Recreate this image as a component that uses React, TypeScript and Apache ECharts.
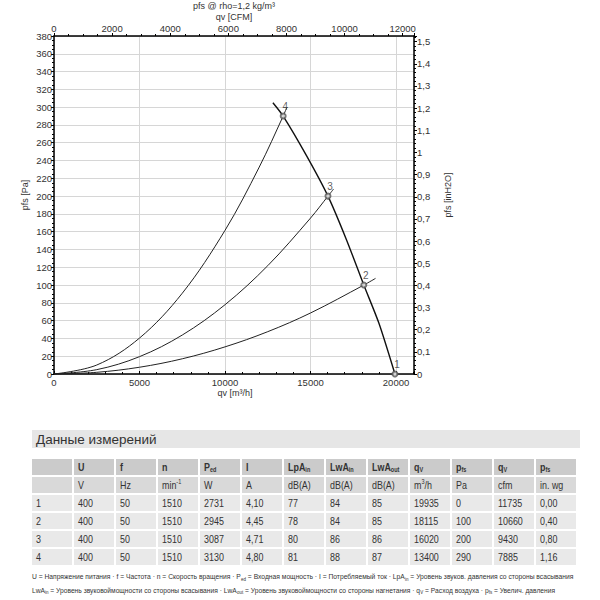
import React, { useEffect, useRef } from 'react';
import * as echarts from 'echarts';

// ---------- measured operating points (table) ----------
const pointIds = ['1', '2', '3', '4'];
const voltageV = [400, 400, 400, 400];
const freqHz = [50, 50, 50, 50];
const speedRpm = [1510, 1510, 1510, 1510];
const powerW = [2731, 2945, 3087, 3130];
const currentA = [4.1, 4.45, 4.71, 4.8];
const lpaIn = [77, 78, 80, 81];
const lwaIn = [84, 84, 86, 88];
const lwaOut = [85, 85, 86, 87];
const qvM3h = [19935, 18115, 16020, 13400];
const pfsPa = [0, 100, 200, 290];
const qvCfm = [11735, 10660, 9430, 7885];
const pfsInWg = [0.0, 0.4, 0.8, 1.16];

// ---------- table header texts ----------
const headerSymbols = ['U', 'f', 'n', 'P', 'I', 'LpA', 'LwA', 'LwA', 'q', 'p', 'q', 'p'];
const headerSubs = ['', '', '', 'ed', '', 'in', 'in', 'out', 'V', 'fs', 'V', 'fs'];
const unitBase = ['V', 'Hz', 'min', 'W', 'A', 'dB(A)', 'dB(A)', 'dB(A)', 'm', 'Pa', 'cfm', 'in. wg'];
const unitSup = ['', '', '-1', '', '', '', '', '', '3', '', '', ''];
const unitTail = ['', '', '', '', '', '', '', '', '/h', '', '', ''];

// ---------- curves ----------
const fanCurveQ = [12800, 13400, 14780, 16020, 17100, 18115, 19000, 19935];
const fanCurveP = [305, 290, 245, 200, 151, 100, 57, 0];
const sys2Q = [0, 2500, 5000, 7500, 10000, 12500, 15000, 18115, 18800];
const sys2P = [0, 1.9, 7.6, 17.1, 30.5, 47.6, 68.6, 100, 107.5];
const sys3Q = [0, 2500, 5000, 7500, 10000, 12500, 15000, 16020, 16350];
const sys3P = [0, 4.9, 19.5, 43.8, 77.9, 121.8, 175.3, 200, 208];
const sys4Q = [0, 2500, 5000, 7500, 10000, 12000, 13400, 13620];
const sys4P = [0, 10.1, 40.4, 90.8, 161.5, 232.6, 290, 300];

// ---------- axis ranges ----------
const xMaxM3h = 21050;
const M3H_PER_CFM = 1.699;
const yMaxPa = 380;
const PA_PER_INH2O = 249.09;

// ---------- footer ----------
const footerLine1 =
  'U = Напряжение питания · f = Частота · n = Скорость вращения · P{s|ed} = Входная мощность · I = Потребляемый ток · LpA{s|in} = Уровень звуков. давления со стороны всасывания';
const footerLine2 =
  'LwA{s|in} = Уровень звуковоймощности со стороны всасывания · LwA{s|out} = Уровень звуковоймощности со стороны нагнетания · q{s|V} = Расход воздуха · p{s|fs} = Увелич. давления';

const FONT = '"Liberation Sans", Arial, sans-serif';
const TXT = '#333';

function zip(a: number[], b: number[]) {
  return a.map((v, i) => [v, b[i]]);
}
function comma(v: number, d: number) {
  return v.toFixed(d).replace('.', ',');
}
function measure(text: string, font: string) {
  const c = document.createElement('canvas').getContext('2d');
  if (!c) return 1;
  c.font = font;
  return c.measureText(text).width;
}

export default function App() {
  const ref = useRef<HTMLDivElement>(null);
  useEffect(() => {
    document.body.style.margin = '0';
    const chart = echarts.init(ref.current!, null, { renderer: 'svg' });

    const graphic: any[] = [];
    const txt = (x: number, y: number, text: string, extra: any = {}, elExtra: any = {}) => {
      graphic.push({
        type: 'text',
        x,
        y,
        silent: true,
        ...elExtra,
        style: { text, fill: TXT, fontFamily: FONT, fontSize: 9.5, align: 'center', verticalAlign: 'middle', ...extra },
      });
    };

    // chart titles / axis names
    txt(234, 6, 'pfs @ rho=1,2 kg/m³', { fontSize: 9 });
    txt(234, 16.5, 'qv [CFM]', { fontSize: 9 });
    txt(235, 393, 'qv [m³/h]', { fontSize: 9 });
    txt(25, 195, 'pfs [Pa]', { fontSize: 9 }, { rotation: Math.PI / 2 });
    txt(448, 195, 'pfs [inH2O]', { fontSize: 9 }, { rotation: Math.PI / 2 });

    // ---- table ----
    graphic.push({ type: 'rect', silent: true, shape: { x: 32, y: 430, width: 548, height: 18 }, style: { fill: '#e6e6e6' } });
    txt(36, 439, 'Данные измерений', { align: 'left', fontSize: 13.5, fill: '#333' });

    const colX = (i: number) => (i === 0 ? 32 : 74 + (i - 1) * 42);
    const colW = 40;
    const cellH = 16;
    const rowTop = [459, 477, 495, 513, 531, 549];
    const rowFill = ['#cbcbcb', '#d9d9d9', '#e9e9e9', '#e9e9e9', '#e9e9e9', '#e9e9e9'];
    const SX = 0.85;
    const richHead = {
      m: { fontSize: 10.5, fontWeight: 'bold', lineHeight: 13, fontFamily: FONT },
      s: { fontSize: 6.5, fontWeight: 'bold', lineHeight: 7, verticalAlign: 'bottom', fontFamily: FONT },
    };
    const richUnit = {
      m: { fontSize: 10.5, lineHeight: 13, fontFamily: FONT },
      u: { fontSize: 6.5, lineHeight: 7, verticalAlign: 'top', fontFamily: FONT },
    };
    for (let r = 0; r < rowTop.length; r++) {
      for (let c = 0; c < 13; c++) {
        graphic.push({
          type: 'rect',
          silent: true,
          shape: { x: colX(c), y: rowTop[r], width: colW, height: cellH },
          style: { fill: rowFill[r] },
        });
      }
    }
    const cellText = (r: number, c: number, text: string, rich?: any) => {
      txt(colX(c) + 4, rowTop[r] + cellH / 2, text, { align: 'left', fontSize: 10.5, rich }, { scaleX: SX });
    };
    headerSymbols.forEach((s, i) => {
      const t = '{m|' + s + '}' + (headerSubs[i] ? '{s|' + headerSubs[i] + '}' : '');
      cellText(0, i + 1, t, richHead);
    });
    unitBase.forEach((u, i) => {
      const t = '{m|' + u + '}' + (unitSup[i] ? '{u|' + unitSup[i] + '}' : '') + (unitTail[i] ? '{m|' + unitTail[i] + '}' : '');
      cellText(1, i + 1, t, richUnit);
    });
    pointIds.forEach((id, k) => {
      const vals = [
        id,
        String(voltageV[k]),
        String(freqHz[k]),
        String(speedRpm[k]),
        String(powerW[k]),
        comma(currentA[k], 2),
        String(lpaIn[k]),
        String(lwaIn[k]),
        String(lwaOut[k]),
        String(qvM3h[k]),
        String(pfsPa[k]),
        String(qvCfm[k]),
        comma(pfsInWg[k], 2),
      ];
      vals.forEach((v, c) => cellText(k + 2, c, v));
    });

    // ---- footer ----
    const footFont = 7.5;
    const plain = (s: string) => s.replace(/\{s\|([^}]*)\}/g, '$1');
    const richFoot = {
      s: { fontSize: 5, lineHeight: 6, verticalAlign: 'bottom', fontFamily: FONT },
    };
    [footerLine1, footerLine2].forEach((line, i) => {
      const w = measure(plain(line), footFont + 'px "Liberation Sans"');
      const target = i === 0 ? 546 : 531;
      txt(32, 577 + i * 13.5, line, { align: 'left', fontSize: footFont, lineHeight: 9, rich: richFoot }, { scaleX: target / w });
    });

    const axisLineStyle = { color: '#000', width: 1.5 };
    const tickStyle = { color: '#000', width: 1 };
    const label = { fontSize: 9.5, color: TXT, fontFamily: FONT };

    const option: any = {
      animation: false,
      textStyle: { fontFamily: FONT },
      grid: { left: 54, top: 36, width: 360, height: 338, containLabel: false },
      xAxis: [
        {
          type: 'value',
          position: 'bottom',
          min: 0,
          max: xMaxM3h,
          interval: 5000,
          axisLine: { show: true, onZero: false, lineStyle: axisLineStyle },
          axisTick: { show: true, inside: true, length: 3, lineStyle: tickStyle },
          minorTick: { show: true, splitNumber: 5, length: 2, lineStyle: tickStyle },
          axisLabel: { ...label, margin: 3, showMaxLabel: false, formatter: (v: number) => String(v) },
          splitLine: { show: true, lineStyle: { color: '#d6d6d6', width: 1 } },
        },
        {
          type: 'value',
          position: 'top',
          min: 0,
          max: xMaxM3h / M3H_PER_CFM,
          interval: 2000,
          axisLine: { show: true, onZero: false, lineStyle: axisLineStyle },
          axisTick: { show: true, inside: false, length: 3, lineStyle: tickStyle },
          minorTick: { show: true, splitNumber: 4, length: 2, lineStyle: tickStyle },
          axisLabel: { ...label, margin: 3, showMaxLabel: false, formatter: (v: number) => String(v) },
          splitLine: { show: false },
        },
      ],
      yAxis: [
        {
          type: 'value',
          position: 'left',
          min: 0,
          max: yMaxPa,
          interval: 20,
          axisLine: { show: true, onZero: false, lineStyle: axisLineStyle },
          axisTick: { show: true, inside: false, length: 3, lineStyle: tickStyle },
          minorTick: { show: true, splitNumber: 4, length: 2, lineStyle: tickStyle },
          axisLabel: { ...label, margin: 2, formatter: (v: number) => String(v) },
          splitLine: { show: true, lineStyle: { color: '#d6d6d6', width: 1 } },
        },
        {
          type: 'value',
          position: 'right',
          min: 0,
          max: yMaxPa / PA_PER_INH2O,
          interval: 0.1,
          axisLine: { show: true, onZero: false, lineStyle: axisLineStyle },
          axisTick: { show: true, inside: false, length: 3, lineStyle: tickStyle },
          minorTick: { show: true, splitNumber: 5, length: 2, lineStyle: tickStyle },
          axisLabel: {
            ...label,
            margin: 3,
            showMaxLabel: false,
            formatter: (v: number) => String(Math.round(v * 10) / 10).replace('.', ','),
          },
          splitLine: { show: false },
        },
      ],
      series: [
        {
          type: 'line',
          data: zip(fanCurveQ, fanCurveP),
          smooth: 0.25,
          showSymbol: false,
          lineStyle: { color: '#111', width: 1.4 },
          silent: true,
        },
        ...[
          [sys2Q, sys2P],
          [sys3Q, sys3P],
          [sys4Q, sys4P],
        ].map(([q, p]) => ({
          type: 'line',
          data: zip(q, p),
          smooth: 0.35,
          showSymbol: false,
          lineStyle: { color: '#222', width: 1 },
          silent: true,
        })),
        {
          type: 'scatter',
          z: 5,
          data: qvM3h.map((q, i) => ({ value: [q, pfsPa[i]], name: pointIds[i] })),
          symbol: 'emptyCircle',
          symbolSize: 5,
          itemStyle: { color: '#555', borderColor: '#555', borderWidth: 1 },
          label: {
            show: true,
            position: 'top',
            distance: 1,
            offset: [2, 0],
            formatter: (p: any) => p.name,
            fontSize: 10,
            color: TXT,
            fontFamily: FONT,
          },
          silent: true,
        },
      ],
      graphic,
    };
    chart.setOption(option);
    return () => chart.dispose();
  }, []);
  return <div ref={ref} style={{ width: 600, height: 600 }} />;
}
